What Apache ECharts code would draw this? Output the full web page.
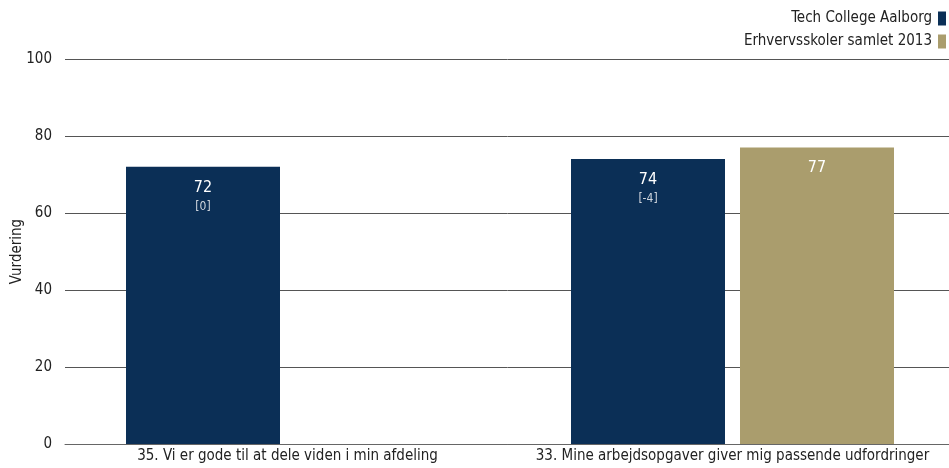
<!DOCTYPE html>
<html>
<head>
<meta charset="utf-8">
<script src="https://cdn.jsdelivr.net/npm/echarts@6/dist/echarts.min.js"></script>
<style>
  html, body { margin: 0; padding: 0; background: #fff; }
  #chart { width: 949px; height: 468px; }
</style>
</head>
<body>
<div id="chart"></div>
<script>
// Survey questions on the x axis
const categories = [
  '35. Vi er gode til at dele viden i min afdeling',
  '33. Mine arbejdsopgaver giver mig passende udfordringer'
];
const seriesNames = ['Tech College Aalborg', 'Erhvervsskoler samlet 2013'];
// Scores per question
const schoolValues = [72, 74];
const benchmarkValues = [null, 77];
// Change since previous measurement, shown under the school score
const schoolChange = ['[0]', '[-4]'];
const yTicks = [0, 20, 40, 60, 80, 100];

const FONT = '"DejaVu Sans Condensed", "DejaVu Sans", sans-serif';
const chart = echarts.init(document.getElementById('chart'), null, { renderer: 'canvas' });

chart.setOption({
  animation: false,
  textStyle: { fontFamily: FONT },
  legend: {
    orient: 'vertical',
    right: 3,
    top: 11,
    padding: 0,
    align: 'right',
    itemWidth: 8,
    itemHeight: 14,
    itemGap: 8,
    icon: 'rect',
    textStyle: { fontFamily: FONT, fontSize: 15, color: '#222', padding: [0, 1, 0, 0] },
    data: seriesNames
  },
  grid: { left: 65, top: 59, bottom: 24, width: 890, containLabel: false, outerBoundsMode: 'none' },
  xAxis: {
    type: 'category',
    data: categories,
    axisTick: { show: false },
    axisLine: { lineStyle: { color: '#666' } },
    axisLabel: { fontFamily: FONT, fontSize: 15, color: '#222', margin: 5, interval: 0 }
  },
  yAxis: {
    type: 'value',
    min: yTicks[0],
    max: yTicks[yTicks.length - 1],
    interval: 20,
    name: 'Vurdering',
    nameLocation: 'middle',
    nameGap: 40,
    nameMoveOverlap: false,
    nameTextStyle: { fontFamily: FONT, fontSize: 15, color: '#222' },
    axisLine: { show: false },
    axisTick: { show: false },
    axisLabel: { fontFamily: FONT, fontSize: 15, color: '#222', margin: 13 },
    splitLine: { lineStyle: { color: '#555', width: 1 } }
  },
  series: [
    {
      name: seriesNames[0],
      type: 'bar',
      data: schoolValues,
      barWidth: 154,
      barGap: '9.74%',
      itemStyle: { color: '#0b2f56' },
      label: {
        show: true,
        position: 'insideTop',
        distance: 12,
        formatter: p => '{v|' + p.value + '}\n{d|' + schoolChange[p.dataIndex] + '}',
        rich: {
          v: { fontFamily: FONT, fontSize: 16, color: '#ffffff', lineHeight: 18 },
          d: { fontFamily: FONT, fontSize: 12, color: '#d0d6de', lineHeight: 20 }
        }
      }
    },
    {
      name: seriesNames[1],
      type: 'bar',
      data: benchmarkValues,
      barWidth: 154,
      itemStyle: { color: '#aa9d6d' },
      label: {
        show: true,
        position: 'insideTop',
        distance: 12,
        fontFamily: FONT,
        fontSize: 16,
        color: '#ffffff'
      }
    }
  ]
});
</script>
</body>
</html>
